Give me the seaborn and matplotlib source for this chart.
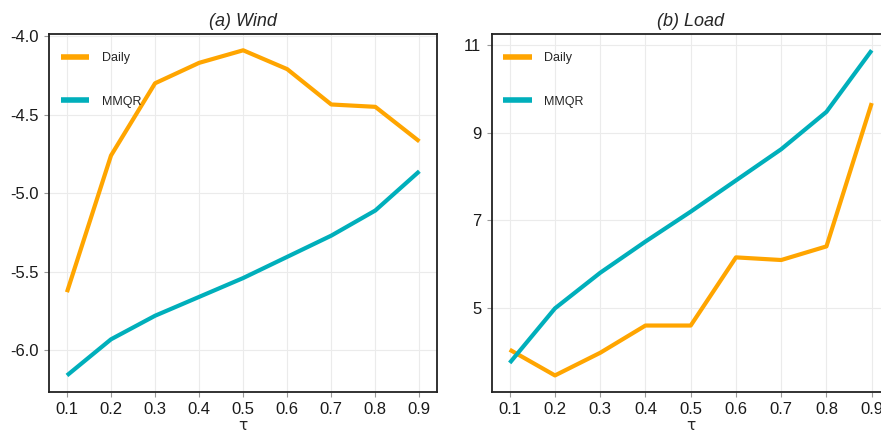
import numpy as np
import pandas as pd
import matplotlib
matplotlib.use("Agg")
import matplotlib.pyplot as plt
import seaborn as sns

tau = [0.1, 0.2, 0.3, 0.4, 0.5, 0.6, 0.7, 0.8, 0.9]
wind_daily = [-5.63, -4.76, -4.30, -4.17, -4.09, -4.21, -4.435, -4.45, -4.67]
wind_mmqr = [-6.16, -5.93, -5.78, -5.66, -5.54, -5.405, -5.27, -5.11, -4.86]
load_daily = [4.06, 3.475, 3.99, 4.61, 4.61, 6.16, 6.10, 6.41, 9.67]
load_mmqr = [3.76, 5.00, 5.81, 6.52, 7.20, 7.91, 8.62, 9.47, 10.87]
series_names = ["Daily", "MMQR"]
titles = ["(a) Wind", "(b) Load"]
wind_yticks = [-6.0, -5.5, -5.0, -4.5, -4.0]
load_yticks = [5, 7, 9, 11]

sns.set_theme(style="white")
plt.rcParams["font.family"] = ["Liberation Sans", "DejaVu Sans"]

palette = {"Daily": "#FFA500", "MMQR": "#00AFBB"}

def make_df(d, m):
    return pd.DataFrame({
        "tau": tau + tau,
        "value": d + m,
        "series": ["Daily"] * len(tau) + ["MMQR"] * len(tau),
    })

fig = plt.figure(figsize=(8.81, 4.33), dpi=100)
ax1 = fig.add_axes([0.056, 0.0954, 0.440, 0.826])
ax2 = fig.add_axes([0.558, 0.0954, 0.452, 0.826])

panels = [
    (ax1, make_df(wind_daily, wind_mmqr), titles[0], wind_yticks, "{:.1f}"),
    (ax2, make_df(load_daily, load_mmqr), titles[1], load_yticks, "{:g}"),
]

for ax, df, title, yt, fmt in panels:
    sns.lineplot(data=df, x="tau", y="value", hue="series", palette=palette,
                 hue_order=series_names, linewidth=3.0, ax=ax, legend=True,
                 solid_capstyle="butt")
    vmin, vmax = df["value"].min(), df["value"].max()
    pad = (vmax - vmin) * 0.05
    ax.set_ylim(vmin - pad, vmax + pad)
    ax.set_xlim(0.06, 0.94)
    ax.set_xticks(tau)
    ax.set_xticklabels([f"{t:.1f}" for t in tau])
    ax.set_yticks(yt)
    ax.set_yticklabels([fmt.format(v) for v in yt])
    ax.grid(True, color="#EBEBEB", linewidth=0.8)
    ax.set_axisbelow(True)
    for s in ax.spines.values():
        s.set_color("#222222")
        s.set_linewidth(1.3)
    ax.tick_params(axis="both", which="major", direction="out", length=3.5,
                   width=0.8, color="#999999", labelsize=12, labelcolor="#1a1a1a",
                   pad=4, bottom=True, left=True)
    ax.set_xlabel("τ", fontsize=11, labelpad=1, family=["DejaVu Sans"])
    ax.set_ylabel("")
    ax.set_title(title, fontsize=13, style="italic", pad=6)
    leg = ax.legend(loc="upper left", frameon=False, fontsize=9,
                    handlelength=2.3, handletextpad=1.0, labelspacing=2.5,
                    borderaxespad=0.2, bbox_to_anchor=(0.01, 0.97))
    for line in leg.get_lines():
        line.set_linewidth(4.0)
        line.set_solid_capstyle("butt")

fig.savefig("out.png", dpi=100)
